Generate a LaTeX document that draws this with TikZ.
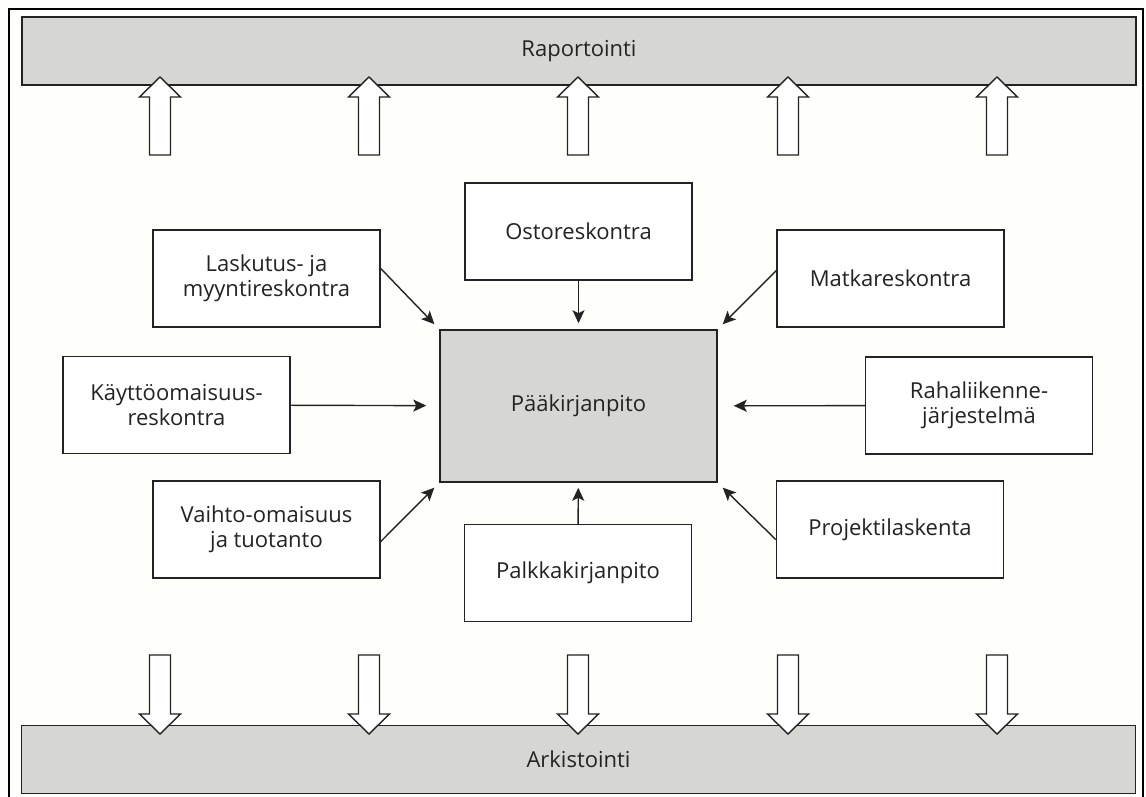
\documentclass[tikz,border=0pt]{standalone}
\usepackage{fontspec}
\setmainfont{Open Sans}
\usetikzlibrary{arrows.meta}
\definecolor{paper}{RGB}{254,254,251}
\definecolor{shade}{RGB}{214,214,211}
\definecolor{ink}{RGB}{35,35,35}
\tikzset{
  box/.style={draw=ink, line width=1.5pt, fill=white, minimum width=227pt,
    minimum height=97pt, align=center, text=ink, font=\fontsize{22}{25}\selectfont},
  bar/.style={draw=ink, line width=1.5pt, fill=shade, minimum width=1114pt,
    minimum height=68pt, text=ink, font=\fontsize{22}{25}\selectfont},
  conn/.style={draw=ink, line width=1.4pt, -{Stealth[length=13pt, width=12pt, inset=3pt]}},
  bigarrow/.style={draw=ink, line width=1.4pt, fill=white},
}
\begin{document}
\begin{tikzpicture}[x=1pt, y=-1pt]
\useasboundingbox (0,0) rectangle (1146,796);
\fill[paper] (0,0) rectangle (1146,796);
\draw[line width=2.4pt] (9,800) -- (9,9) -- (1143,9) -- (1143,800);

\node[bar] (rap) at (579,51) {Raportointi};
\node[bar] (ark) at (578.5,759.5) {Arkistointi};
\foreach \ax in {160,369,578,788,997}{
\draw[bigarrow] (\ax,77) -- (\ax+20.5,97) -- (\ax+10.5,97) -- (\ax+10.5,155)
  -- (\ax-10.5,155) -- (\ax-10.5,97) -- (\ax-20.5,97) -- cycle;
\draw[bigarrow] (\ax,734) -- (\ax+20.5,714) -- (\ax+10.5,714) -- (\ax+10.5,655)
  -- (\ax-10.5,655) -- (\ax-10.5,714) -- (\ax-20.5,714) -- cycle;
}

\node[box, fill=shade, minimum width=277pt, minimum height=152pt] (paa) at (578.5,406) {Pääkirjanpito};
\node[box] (osto) at (578.5,231.5) {Ostoreskontra};
\node[box] (matka) at (890.5,278.5) {Matkareskontra};
\node[box] (raha) at (979,405.5) {Rahaliikenne-\\järjestelmä};
\node[box] (proj) at (890,529.5) {Projektilaskenta};
\node[box] (palkka) at (578,573) {Palkkakirjanpito};
\node[box] (vaihto) at (266.5,529.5) {Vaihto-omaisuus\\ja tuotanto};
\node[box] (kaytto) at (176.5,405) {Käyttöomaisuus-\\reskontra};
\node[box] (lasku) at (266.5,278.5) {Laskutus- ja\\myyntireskontra};

\draw[conn, shorten >=6pt] (osto) -- (paa);
\draw[conn, shorten >=5pt] (palkka) -- (paa);
\draw[conn, shorten >=13pt] (kaytto) -- (paa);
\draw[conn, shorten >=16pt] (raha) -- (paa);
\draw[conn, shorten >=7pt] ([yshift=10pt]lasku.east) -- (paa.north west);
\draw[conn, shorten >=7pt] ([yshift=8pt]matka.west) -- (paa.north east);
\draw[conn, shorten >=7pt] ([yshift=-12pt]vaihto.east) -- (paa.south west);
\draw[conn, shorten >=7pt] ([yshift=-10pt]proj.west) -- (paa.south east);
\end{tikzpicture}
\end{document}
